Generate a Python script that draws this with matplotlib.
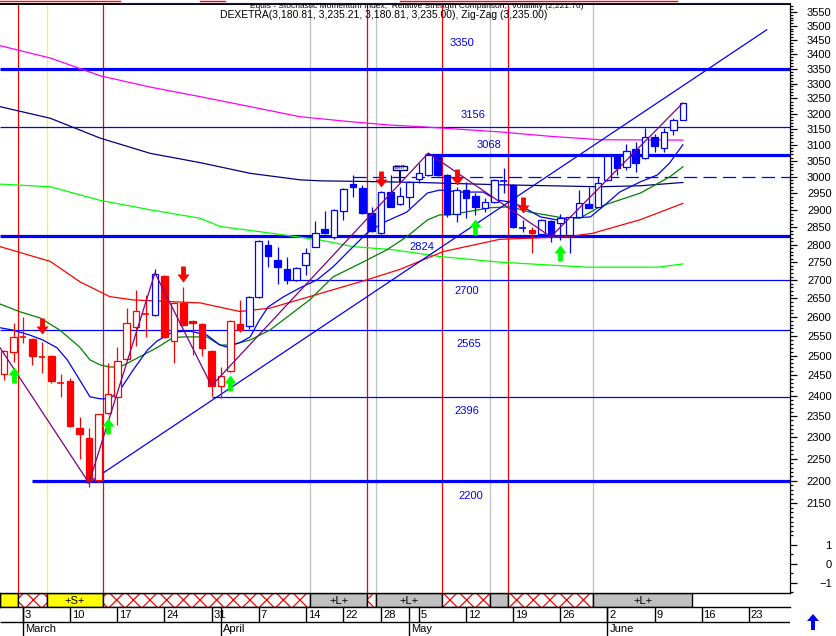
import matplotlib
matplotlib.use("Agg")
import matplotlib.pyplot as plt
from matplotlib.lines import Line2D
from matplotlib.patches import Rectangle, Polygon
from matplotlib.path import Path
from matplotlib.ticker import FixedLocator, NullFormatter, FuncFormatter

plt.rcParams["font.family"] = ["Liberation Sans", "DejaVu Sans"]
plt.rcParams["hatch.linewidth"] = 0.9
plt.rcParams["lines.scale_dashes"] = False

# DAX Xetra daily bars, 27 Feb .. 12 Jun 2003 (bar index 0..72)
OPEN = [2453, 2510, 2549, 2543, 2498, 2499, 2432, 2436, 2322, 2298,
        2202, 2357, 2397, 2492, 2574, 2610, 2606, 2712, 2537, 2638,
        2590, 2582, 2512, 2424, 2461, 2582, 2576, 2654, 2799, 2756,
        2732, 2701, 2743, 2794, 2844, 2822, 2897, 2979, 2967, 2891,
        2833, 2954, 2917, 2940, 2994, 3006, 3061, 3006, 2888, 2960,
        2942, 2907, 2924, 2989, 2976, 2848, 2842, 2830, 2868, 2863,
        2827, 2880, 2917, 2910, 2991, 3068, 3031, 3087, 3058, 3124,
        3090, 3146, 3181]
HIGH = [2515, 2585, 2600, 2545, 2535, 2501, 2453, 2443, 2348, 2322,
        2356, 2481, 2522, 2625, 2673, 2659, 2731, 2714, 2640, 2681,
        2592, 2584, 2514, 2471, 2592, 2645, 2656, 2812, 2813, 2794,
        2765, 2736, 2791, 2869, 2897, 2903, 2965, 3006, 2976, 2910,
        2956, 3006, 2970, 2987, 3043, 3074, 3063, 3008, 2970, 2985,
        2951, 2935, 2993, 3028, 2978, 2871, 2851, 2873, 2870, 2889,
        2882, 2960, 2970, 3000, 3066, 3070, 3103, 3109, 3153, 3134,
        3153, 3187, 3235]
LOW = [2439, 2484, 2533, 2476, 2456, 2431, 2397, 2325, 2250, 2186,
       2198, 2355, 2329, 2490, 2525, 2548, 2604, 2546, 2481, 2577,
       2501, 2499, 2400, 2394, 2459, 2560, 2569, 2652, 2737, 2689,
       2689, 2699, 2715, 2792, 2831, 2815, 2871, 2940, 2889, 2836,
       2831, 2908, 2915, 2907, 2982, 3004, 3004, 2880, 2866, 2877,
       2886, 2895, 2922, 2951, 2849, 2836, 2776, 2828, 2807, 2813,
       2776, 2878, 2905, 2908, 2989, 3006, 3021, 3015, 3056, 3077,
       3077, 3131, 3181]
CLOSE = [2512, 2548, 2547, 2499, 2496, 2436, 2430, 2327, 2308, 2202,
         2355, 2404, 2486, 2585, 2617, 2608, 2717, 2548, 2638, 2579,
         2585, 2520, 2424, 2449, 2590, 2566, 2654, 2810, 2768, 2737,
         2701, 2734, 2777, 2833, 2833, 2901, 2963, 2970, 2891, 2838,
         2954, 2910, 2942, 2985, 3012, 3068, 3006, 2888, 2960, 2936,
         2910, 2924, 2991, 2987, 2851, 2845, 2833, 2871, 2827, 2877,
         2880, 2921, 2907, 2982, 3064, 3028, 3080, 3043, 3124, 3096,
         3140, 3178, 3235]
# bars drawn in red (the rest are blue)
RED_BARS = [0, 1, 2, 3, 4, 5, 6, 7, 8, 9, 10, 11, 12, 13, 14, 15,
            17, 18, 19, 20, 21, 22, 23, 24, 25, 56]

# moving averages: (bar position, value)
MA_MAGENTA_X = [-0.44, 4.9, 10.2, 15.5, 20.8, 26.1, 31.4, 36.7, 40.9, 44.1, 52.6, 57.9, 63.2, 72]
MA_MAGENTA_Y = [3430, 3387, 3326, 3288, 3256, 3223, 3190, 3174, 3163, 3158, 3141, 3127, 3116, 3115]
MA_NAVY_X = [-0.44, 4.9, 10.2, 15.5, 20.8, 26.1, 31.4, 33.5, 38.5, 44.1, 52.6, 57.9, 63.2, 67.5, 72]
MA_NAVY_Y = [3223, 3185, 3121, 3073, 3044, 3011, 2991, 2988, 2986, 2983, 2976, 2973, 2970, 2973, 2983]
MA_GREEN_X = [-0.44, 4.9, 10.2, 15.5, 20.8, 22.9, 28.2, 33.5, 37.0, 41.3, 46.2, 52.6, 61.8, 69.3, 72]
MA_GREEN_Y = [2978, 2970, 2929, 2901, 2876, 2852, 2833, 2813, 2794, 2785, 2766, 2750, 2736, 2736, 2745]
MA_RED_X = [-0.44, 4.9, 8.0, 11.2, 13.7, 20.8, 25.0, 28.2, 32.4, 38.5, 42.0, 46.6, 52.6, 59.7, 62.4, 67.5, 72]
MA_RED_Y = [2794, 2752, 2696, 2655, 2646, 2638, 2615, 2624, 2655, 2701, 2730, 2780, 2815, 2822, 2832, 2872, 2920]
MA_DKGREEN_X = [-0.44, 1.7, 3.8, 5.9, 8.0, 9.1, 10.2, 11.2, 12.3, 14.4, 16.2, 17.9, 19.0, 21.5, 22.9,
                24.0, 26.1, 28.2, 32.4, 34.9, 38.5, 40.6, 42.7, 44.9, 46.2, 47.3, 51.5, 53.7, 55.8,
                59.3, 61.1, 63.2, 64.3, 67.5, 70.6, 72]
MA_DKGREEN_Y = [2635, 2614, 2598, 2566, 2522, 2489, 2476, 2471, 2471, 2497, 2520, 2546, 2548, 2548, 2527,
                2527, 2540, 2566, 2646, 2709, 2756, 2785, 2822, 2871, 2886, 2886, 2907, 2910, 2894,
                2877, 2877, 2910, 2921, 2951, 3000, 3031]
MA_BLUE_X = [-0.44, 0.9, 2.7, 4.1, 5.6, 6.7, 8.0, 9.1, 10.2, 11.2, 12.3, 13.7, 15.2, 16.2, 17.9, 19.7,
             21.5, 22.9, 23.6, 25.0, 26.1, 27.1, 28.0, 29.6, 31.4, 33.2, 34.9, 36.7, 38.5, 40.2, 42.7,
             44.9, 46.2, 48.4, 50.8, 52.3, 53.7, 55.0, 56.9, 58.7, 60.4, 62.2, 63.5, 65.3, 67.5, 69.3,
             70.6, 72]
MA_BLUE_Y = [2572, 2566, 2553, 2540, 2520, 2489, 2439, 2397, 2392, 2392, 2414, 2464, 2514, 2537, 2561, 2563,
             2553, 2527, 2522, 2533, 2548, 2593, 2627, 2654, 2679, 2701, 2737, 2785, 2833, 2863, 2894,
             2951, 2960, 2954, 2954, 2930, 2924, 2910, 2880, 2871, 2877, 2880, 2910, 2954, 2985, 3006,
             3043, 3100]

# zig-zag on closes and the long support trend line
ZZ_X = [-0.44, 9, 16, 22, 45, 58, 72]
ZZ_Y = [2520, 2195, 2720, 2424, 3074, 2822, 3235]
TREND_X = [8.9, 80.9]
TREND_Y = [2195, 3486]

# horizontal levels
LEVELS = [3350, 3156, 3068, 3000, 2824, 2700, 2565, 2396, 2200]
LEVEL_FROM = [-0.44, -0.44, 44.6, 37.0, -0.44, 30.0, -0.44, 22.0, 3.0]
LEVEL_KIND = ["thick", "thin", "thick", "dash", "thick", "thin", "thin", "thin", "thick"]

# buy / sell arrows
BUY_BARS = [1, 11, 24, 50, 59]
BUY_PRICE = [2471, 2346, 2451, 2874, 2799]
SELL_BARS = [4, 19, 40, 48, 55]
SELL_PRICE = [2556, 2695, 2970, 2976, 2892]
EXIT_BAR, EXIT_PRICE = 42, 3021

# system state changes: X = flat (hatched), S = short, L = long
SIG_X = [1.5, 4.5, 10.5, 32.5, 38.5, 39.5, 46.5, 51.5, 53.5, 62.5]
SIG_KIND = ["X", "S", "X", "L", "X", "L", "X", "L", "X", "L"]
SIG_FIRST = "S"
SIG_END = 73.0

PRICE_TICKS = list(range(2150, 3551, 50))
WEEK_TICKS = [2, 7, 12, 17, 22, 27, 32, 36, 40, 44, 49, 54, 59, 64, 69, 74, 79]
WEEK_LABELS = ["3", "10", "17", "24", "31", "7", "14", "22", "28", "5", "12", "19", "26", "2", "9", "16", "23"]
MONTH_TICKS = [2, 23, 43, 64]
MONTH_LABELS = ["March", "April", "May", "June"]

BLUE = "#0000ff"
W, H = 837.0, 636.0
X0, X1 = -0.44, 83.37


def fx(px):
    return px / W


def fy(py):
    return 1.0 - py / H


fig = plt.figure(figsize=(8.37, 6.36), dpi=100)
fig.patch.set_facecolor("white")

ax = fig.add_axes([0, fy(532), fx(790), (532 - 4) / H])
ax_ind = fig.add_axes([0, fy(593), fx(790), (593 - 532) / H])
ax_sig = fig.add_axes([0, fy(607), fx(790), (607 - 593) / H])
ax_date = fig.add_axes([0, 0, fx(790), (636 - 607) / H])

# ---- price panel
ax.set_yscale("log")
ax.set_xlim(X0, X1)
ax.set_ylim(2088, 3579)

kind_color = {"X": "#ff0000", "S": "#ffff00", "L": "#c0c0c0"}
for x, k in zip(SIG_X, SIG_KIND):
    for a in (ax, ax_ind):
        a.axvline(x, color=kind_color[k], lw=0.9, zorder=1)

for lev, x0, k in zip(LEVELS, LEVEL_FROM, LEVEL_KIND):
    if k == "thick":
        ax.hlines(lev, x0, X1, color=BLUE, lw=2.3, zorder=2)
    elif k == "dash":
        ax.hlines(lev, x0, X1, color=BLUE, lw=0.9, linestyles=(0, (9.5, 4.5)), zorder=2)
    else:
        ax.hlines(lev, x0, X1, color=BLUE, lw=0.9, zorder=2)

label_x = [48.6, 49.7, 51.4, None, 44.3, 49.1, 49.3, 49.1, 49.5]
label_dy = [26, 12, 10, None, -11, -11, -14, -14, -15]
for lev, lx, dy in zip(LEVELS, label_x, label_dy):
    if lx is None:
        continue
    ax.annotate(str(lev), (lx, lev), xytext=(0, dy * 0.72), textcoords="offset points",
                ha="center", va="center", fontsize=8, color=BLUE)

ax.plot(MA_MAGENTA_X, MA_MAGENTA_Y, color="#ff00ff", lw=0.9, zorder=2)
ax.plot(MA_NAVY_X, MA_NAVY_Y, color="#000080", lw=0.9, zorder=2)
ax.plot(MA_GREEN_X, MA_GREEN_Y, color="#00ff00", lw=0.9, zorder=2)
ax.plot(MA_RED_X, MA_RED_Y, color="#ff0000", lw=0.9, zorder=2)
ax.plot(MA_DKGREEN_X, MA_DKGREEN_Y, color="#008000", lw=0.9, zorder=2)
ax.plot(MA_BLUE_X, MA_BLUE_Y, color=BLUE, lw=0.9, zorder=2)
ax.plot(TREND_X, TREND_Y, color=BLUE, lw=0.9, zorder=2)
ax.plot(ZZ_X, ZZ_Y, color="#800080", lw=0.9, zorder=5)

# candles
bw = 0.7
for i, (o, h, l, c) in enumerate(zip(OPEN, HIGH, LOW, CLOSE)):
    col = "#ff0000" if i in RED_BARS else BLUE
    ax.vlines(i, l, h, color=col, lw=0.9, zorder=3)
    if abs(c - o) / o < 0.0015:
        ax.hlines((o + c) / 2, i - bw / 2, i + bw / 2, color=col, lw=1.2, zorder=4)
        continue
    lo, hi = min(o, c), max(o, c)
    face = "white" if c > o else col
    ax.add_patch(Rectangle((i - bw / 2, lo), bw, hi - lo, facecolor=face,
                           edgecolor=col, lw=0.9, zorder=4))

up = Path([(0, 0), (0.38, -0.5), (0.15, -0.5), (0.15, -1), (-0.15, -1), (-0.15, -0.5), (-0.38, -0.5), (0, 0)],
          [Path.MOVETO] + [Path.LINETO] * 6 + [Path.CLOSEPOLY])
down = Path([(x, -y) for x, y in up.vertices], up.codes)
ax.plot(BUY_BARS, BUY_PRICE, ls="none", marker=up, ms=23, mfc="#00ff00", mec="none", zorder=6)
ax.plot(SELL_BARS, SELL_PRICE, ls="none", marker=down, ms=23, mfc="#ff0000", mec="none", zorder=6)

ax.vlines(EXIT_BAR, EXIT_PRICE * 0.988, EXIT_PRICE, color="#000080", lw=1.5, zorder=6)
ax.add_patch(Rectangle((EXIT_BAR - 0.75, EXIT_PRICE), 1.5, EXIT_PRICE * 0.0045,
                       facecolor="white", edgecolor="#000080", lw=1, zorder=7))
ax.text(EXIT_BAR, EXIT_PRICE * 1.0022, "EXIT", fontsize=3.5, color="#000080",
        ha="center", va="center", zorder=8)

ax.yaxis.tick_right()
ax.yaxis.set_major_locator(FixedLocator(PRICE_TICKS))
ax.yaxis.set_minor_locator(FixedLocator(list(range(2090, 3580, 10))))
ax.yaxis.set_major_formatter(FuncFormatter(lambda v, p: f"{v:.0f}"))
ax.yaxis.set_minor_formatter(NullFormatter())
ax.tick_params(axis="y", which="major", length=5, width=0.9, pad=25, labelsize=8)
ax.tick_params(axis="y", which="minor", length=2.5, width=0.9)
ax.set_xticks([])
for s in ("left", "bottom"):
    ax.spines[s].set_visible(False)
ax.spines["top"].set_linewidth(1.4)
ax.spines["right"].set_linewidth(0.9)
plt.setp(ax.get_yticklabels(), ha="right")

# ---- indicator panel (only its scale shows)
ax_ind.set_xlim(X0, X1)
ax_ind.set_ylim(-1.53, 1.68)
ax_ind.yaxis.tick_right()
ax_ind.set_yticks([-1, 0, 1])
ax_ind.set_yticks([-1.5, -0.5, 0.5, 1.5], minor=True)
ax_ind.tick_params(axis="y", which="major", length=5, width=0.9, pad=25, labelsize=8)
ax_ind.tick_params(axis="y", which="minor", length=2.5, width=0.9)
ax_ind.set_xticks([])
for s in ("left", "bottom", "top"):
    ax_ind.spines[s].set_visible(False)
ax_ind.spines["right"].set_linewidth(0.9)
plt.setp(ax_ind.get_yticklabels(), ha="right")

# ---- state strip
ax_sig.set_xlim(X0, X1)
ax_sig.set_ylim(0, 1)
ax_sig.set_xticks([])
ax_sig.set_yticks([])
ax_sig.spines["right"].set_visible(False)
for s in ("left", "top", "bottom"):
    ax_sig.spines[s].set_linewidth(1.0)
edges = [X0] + SIG_X + [SIG_END]
kinds = [SIG_FIRST] + SIG_KIND
for x0, x1, k in zip(edges[:-1], edges[1:], kinds):
    if k == "X":
        ax_sig.add_patch(Rectangle((x0, 0), x1 - x0, 1, facecolor="white", edgecolor="#ff0000",
                                   hatch="xx", lw=0))
    else:
        ax_sig.add_patch(Rectangle((x0, 0), x1 - x0, 1, facecolor=kind_color[k], lw=0))
    ax_sig.add_patch(Rectangle((x0, 0), x1 - x0, 1, fill=False, edgecolor="black", lw=1.0))
    if k in ("S", "L") and x1 - x0 > 3:
        ax_sig.text((x0 + x1) / 2, 0.45, f"+{k}+", ha="center", va="center", fontsize=8)

# ---- date rows
ax_date.set_xlim(X0, X1)
ax_date.set_ylim(29, 0)
ax_date.axis("off")
ax_date.hlines(15, X0, X1, color="black", lw=1.0)
for x, lab in zip(WEEK_TICKS, WEEK_LABELS):
    ax_date.vlines(x, 0, 15, color="black", lw=1.0)
    ax_date.text(x + 0.2, 8, lab, ha="left", va="center", fontsize=8)
for x, lab in zip(MONTH_TICKS, MONTH_LABELS):
    ax_date.vlines(x, 0, 29, color="black", lw=1.0)
    ax_date.text(x + 0.2, 22.5, lab, ha="left", va="center", fontsize=8)

# ---- header decorations and legend text
for x0, x1, col in [(0, 120, "#ff0000"), (200, 225, "#ff0000"), (400, 677, "#ff0000")]:
    fig.add_artist(Line2D([fx(x0), fx(x1)], [fy(1.2), fy(1.2)], color=col, lw=1.0))
fig.add_artist(Line2D([fx(120), fx(790)], [fy(2.6), fy(2.6)], color=BLUE, lw=0.8))

fig.text(fx(250), fy(6.5), "Equis - Stochastic Momentum Index,  Relative Strength Comparison,  "
         "Volatility (2,221.76)", fontsize=6, va="center")
fig.text(fx(220), fy(14.5), "DEXETRA(3,180.81, 3,235.21, 3,180.81, 3,235.00), Zig-Zag (3,235.00)",
         fontsize=7.5, va="center")

fig.add_artist(Polygon([[fx(813), fy(614)], [fx(819), fy(621)], [fx(815), fy(621)], [fx(815), fy(630)],
                        [fx(811), fy(630)], [fx(811), fy(621)], [fx(807), fy(621)]],
                       closed=True, facecolor=BLUE, edgecolor="none", transform=fig.transFigure))

fig.savefig("out.png", dpi=100)
